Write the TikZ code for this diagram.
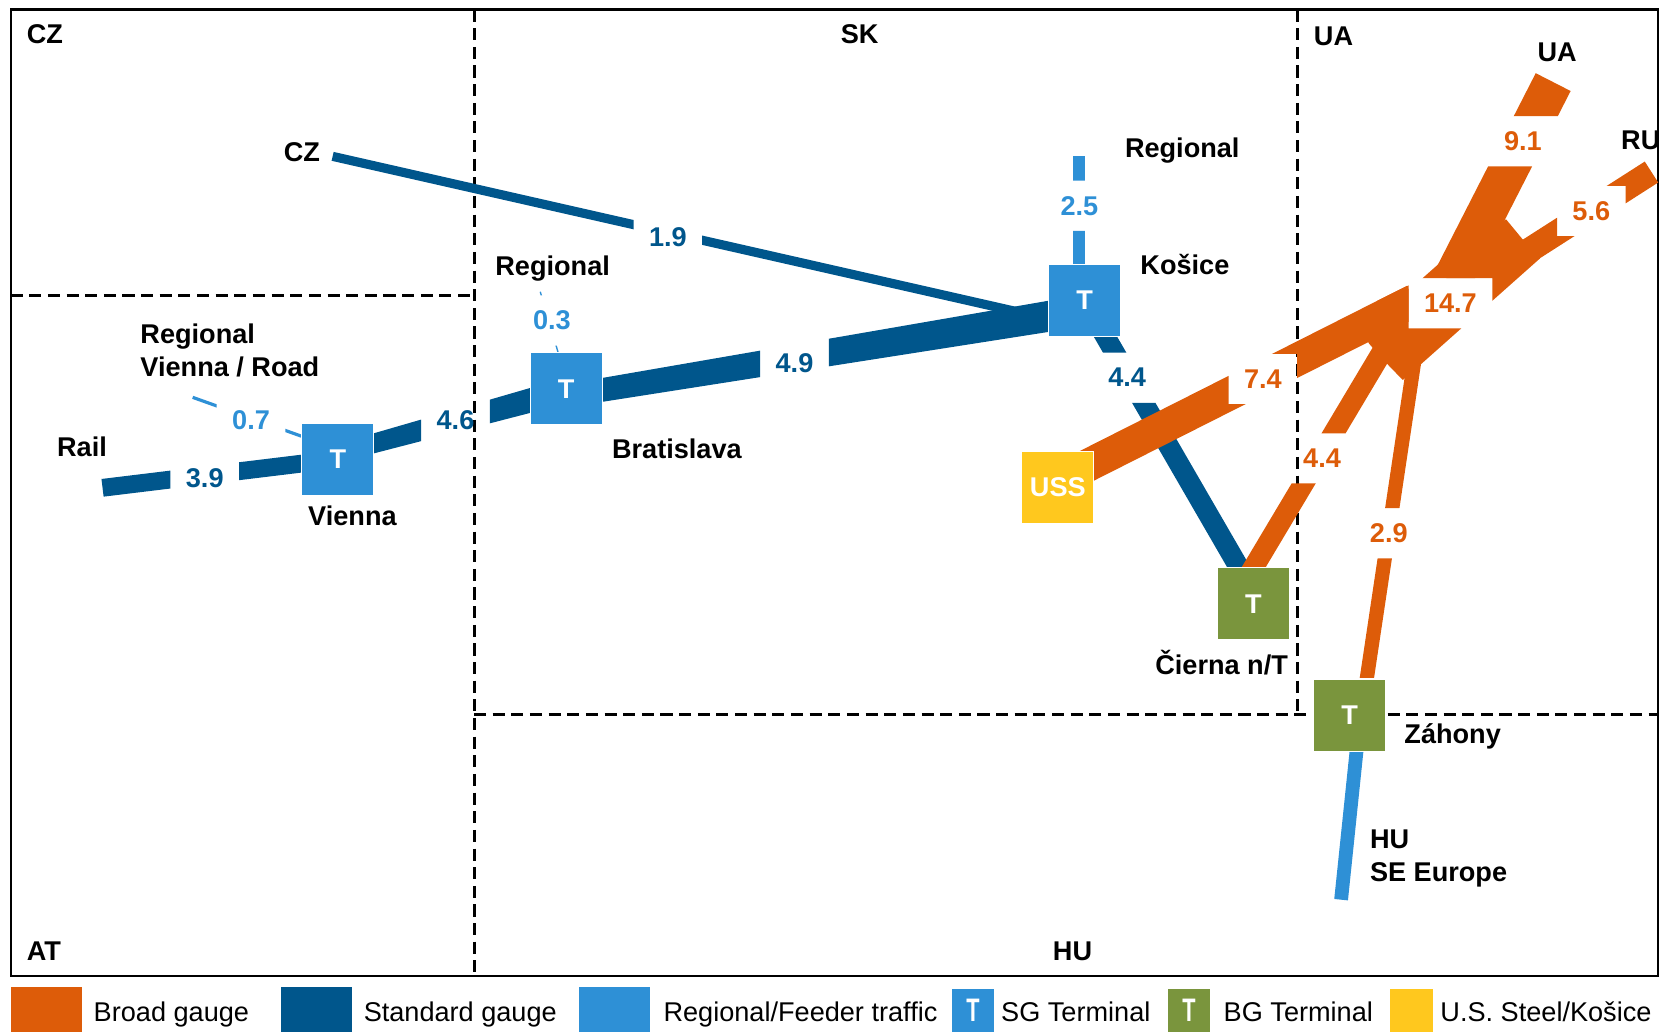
\documentclass[tikz,border=0pt]{standalone}
\usepackage{fontspec}
\setmainfont{Liberation Sans}
\usetikzlibrary{calc}
\pgfdeclarelayer{background}
\pgfsetlayers{background,main}
\definecolor{bgor}{RGB}{221,92,9}
\definecolor{sgblue}{RGB}{0,86,140}
\definecolor{rgblue}{RGB}{46,144,214}
\definecolor{bggreen}{RGB}{122,149,61}
\definecolor{ussyel}{RGB}{255,200,30}
\begin{document}
\begin{tikzpicture}[x=0.5pt,y=-0.5pt,
  lab/.style={font=\fontsize{12.8}{15.5}\selectfont\bfseries, inner sep=0pt},
  num/.style={font=\fontsize{12.8}{15.5}\selectfont\bfseries, inner xsep=7.1pt, inner ysep=0pt, minimum height=23.3pt},
  term/.style={minimum size=34pt, inner sep=0pt, draw=white, line width=0.5pt, text=white, font=\fontsize{12.8}{15.5}\selectfont\bfseries},
  sgterm/.style={term, fill=rgblue},
  bgterm/.style={term, fill=bggreen},
  frameline/.style={line width=1pt},
  divline/.style={line width=1.4pt, dash pattern=on 5.7pt off 3.1pt},
  legsw/.style={inner sep=0pt, anchor=north west, draw=white, line width=0.4pt},
  legtext/.style={font=\fontsize{12.8}{15.5}\selectfont, inner sep=0pt, anchor=base west},
  legT/.style={legsw, text=white, font=\fontsize{12.8}{15.5}\selectfont\bfseries, minimum width=20.6pt, minimum height=20.8pt}
]
\useasboundingbox (0,0) rectangle (1568,974);

% ---------- frame and borders ----------
\begin{pgfonlayer}{background}
\draw[frameline] (10,9) rectangle (1565.5,921.5);
\draw[divline] (447.5,9) -- (447.5,921.5);
\draw[divline] (10,278.5) -- (447.5,278.5);
\draw[divline] (1225,9) -- (1225,674.3);
\draw[divline] (447.5,674.3) -- (1565.5,674.3);
\end{pgfonlayer}

% ---------- region labels ----------
\node[lab, anchor=base west] (rCZ) at (25,41.5) {CZ};
\node[lab, anchor=base] (rSK) at (811.5,41.5) {SK};
\node[lab, anchor=base west] (rUA) at (1240,42.5) {UA};
\node[lab, anchor=base west] (rAT) at (25,907) {AT};
\node[lab, anchor=base] (rHU) at (1012.5,907) {HU};

% ---------- terminals ----------
\node[sgterm] (vienna) at (318.9,433.5) {T};
\node[sgterm] (brat) at (534.4,367.1) {T};
\node[sgterm] (kosice) at (1023.8,283.7) {T};
\node[term, fill=ussyel] (uss) at (998.6,460) {USS};
\node[bgterm] (cierna) at (1183.3,570) {T};
\node[bgterm] (zahony) at (1274.1,675) {T};

% ---------- flow values ----------
\node[num, text=sgblue] (l39) at (193.3,451.5) {3.9};
\node[num, text=rgblue] (l07) at (237,396.5) {0.7};
\node[num, text=sgblue] (l46) at (430,397) {4.6};
\node[num, text=rgblue] (l03) at (521,302.5) {0.3};
\node[num, text=sgblue] (l49) at (750,343) {4.9};
\node[num, text=sgblue] (l19) at (630.5,223.5) {1.9};
\node[num, text=rgblue] (l25) at (1019,194.3) {2.5};
\node[num, text=sgblue] (l44b) at (1064,356.5) {4.4};
\node[num, text=bgor] (l74) at (1192.2,357.8) {7.4};
\node[num, text=bgor] (l44o) at (1248,432.7) {4.4};
\node[num, text=bgor] (l29) at (1311,503.3) {2.9};
\node[num, text=bgor] (l147) at (1369.2,286.3) {14.7};
\node[num, text=bgor, minimum width=34pt] (l91) at (1437.6,133.3) {9.1};
\node[num, text=bgor] (l56) at (1502.2,199.2) {5.6};

% ---------- place labels ----------
\node[lab, anchor=base west] (railL) at (53.5,431.3) {Rail};
\node[lab, anchor=base west, align=left] (regVL) at (132.2,355) {Regional\\Vienna / Road};
\node[lab, anchor=base] (viennaL) at (332.7,496) {Vienna};
\node[lab, anchor=base] (regBL) at (521.7,260.5) {Regional};
\node[lab, anchor=base] (bratL) at (639,432.7) {Bratislava};
\node[lab, anchor=base west] (czL) at (267.5,152.6) {CZ};
\node[lab, anchor=base west] (regKL) at (1061.6,148.5) {Regional};
\node[lab, anchor=base west] (kosL) at (1076.2,259) {Košice};
\node[lab, anchor=base east] (ciernaL) at (1216.2,636.3) {Čierna n/T};
\node[lab, anchor=base west] (zahL) at (1325.4,701.7) {Záhony};
\node[lab, anchor=base west, align=left] (huL) at (1292.9,832.3) {HU\\SE Europe};
\node[lab, anchor=base] (uaL) at (1469.9,58.2) {UA};
\node[lab, anchor=base west] (ruL) at (1530,141.6) {RU};

% ---------- free ends and junction ----------
\coordinate (railend) at (96.8,460.5);
\coordinate (regV) at (181.9,375.1);
\coordinate (regB) at (510,275.4);
\coordinate (czend) at (314,147.6);
\coordinate (regK) at (1018.8,147.3);
\coordinate (uaend) at (1466.2,77.5);
\coordinate (ruend) at (1559,162.4);
\coordinate (huend) at (1266,849.3);
\coordinate (k74) at (1335,283.7);
\coordinate (k44) at (1309,325);
\coordinate (k29) at (1335.2,340);
\coordinate (k91) at (1370.4,265);
\coordinate (k56) at (1420,251.4);

% ---------- flows ----------
\begin{pgfonlayer}{background}
\begin{scope}
\clip (0,974) rectangle (1568,0)
  (l39.south east) rectangle (l39.north west)
  (l07.south east) rectangle (l07.north west)
  (l46.south east) rectangle (l46.north west)
  (l03.south east) rectangle (l03.north west)
  (l49.south east) rectangle (l49.north west)
  (l19.south east) rectangle (l19.north west)
  (l25.south east) rectangle (l25.north west)
  (l44b.south east) rectangle (l44b.north west)
  (l74.south east) rectangle (l74.north west)
  (l44o.south east) rectangle (l44o.north west)
  (l29.south east) rectangle (l29.north west)
  (l147.south east) rectangle (l147.north west)
  (l91.south east) rectangle (l91.north west)
  (l56.south east) rectangle (l56.north west);
% standard gauge
\draw[sgblue, line width=8.4pt] (railend) -- (vienna.center);
\fill[sgblue] ($(vienna)+(0,-14.6)$) -- ($(brat)+(0,-10.7)$) -- ($(brat)+(0,13.9)$) -- ($(vienna)+(0,3.3)$) -- cycle;
\fill[sgblue] ($(brat)+(0,-4.4)$) -- ($(kosice)+(0,-5.7)$) -- ($(kosice)+(0,24.3)$) -- ($(brat)+(0,17.6)$) -- cycle;
\draw[sgblue, line width=4.3pt] (czend) -- ($(kosice)+(0,25)$);
\draw[sgblue, line width=9.55pt] (kosice.center) -- ($(cierna.north)+(-8.6,9)$);
% regional / feeder
\draw[rgblue, line width=1.5pt] (regV) -- ($(vienna.west)+(5,-20)$);
\draw[rgblue, line width=0.65pt] (regB) -- ($(brat.north)+(-6.4,4)$);
\draw[rgblue, line width=5.5pt] (regK) -- ($(kosice)+(-5,0)$);
\draw[rgblue, line width=6.5pt] (huend) -- ($(zahony)+(10,0)$);
% broad gauge
\fill[bgor] (1300,284) -- (1342,263.4) -- (1359.4,248) -- (1421.7,207) -- (1437.4,226)
  -- (1453.8,243.9) -- (1340.5,344.6) -- (1324.2,358.7) -- (1309,343) -- (1294.9,327.3)
  -- (1291.7,323.5) -- cycle;
\draw[bgor, line width=15.5pt] ($(uss)+(0,-6.4)$) -- (k74);
\draw[bgor, line width=9.75pt] ($(cierna.north)+(-7,12)$) -- (k44);
\draw[bgor, line width=6.7pt] ($(zahony)+(11,0)$) -- (k29);
\draw[bgor, line width=18.5pt] (k91) -- (uaend);
\draw[bgor, line width=11.75pt] (k56) -- (ruend);
\end{scope}
\end{pgfonlayer}

% ---------- legend ----------
\node[legsw, fill=bgor, minimum width=34.15pt, minimum height=21.6pt] (lgbg) at (9.4,930.8) {};
\node[legtext] (lgbgT) at (88.1,964.5) {Broad gauge};
\node[legsw, fill=sgblue, minimum width=34.15pt, minimum height=21.6pt] (lgsg) at (264.3,930.8) {};
\node[legtext] (lgsgT) at (343,964.5) {Standard gauge};
\node[legsw, fill=rgblue, minimum width=34pt, minimum height=21.6pt] (lgrg) at (546,930.8) {};
\node[legtext] (lgrgT) at (626,964.5) {Regional/Feeder traffic};
\node[legT, fill=rgblue] (lgst) at (897.4,932.4) {\scalebox{0.8}[1.2]{T}};
\node[legtext] (lgstT) at (944.7,964.5) {SG Terminal};
\node[legT, fill=bggreen] (lgbt) at (1101.4,932.4) {\scalebox{0.8}[1.2]{T}};
\node[legtext] (lgbtT) at (1154.8,964.5) {BG Terminal};
\node[legsw, fill=ussyel, minimum width=20.45pt, minimum height=20.8pt] (lgus) at (1311.6,932.4) {};
\node[legtext] (lgusT) at (1359.4,964.5) {U.S. Steel/Košice};
\end{tikzpicture}
\end{document}
